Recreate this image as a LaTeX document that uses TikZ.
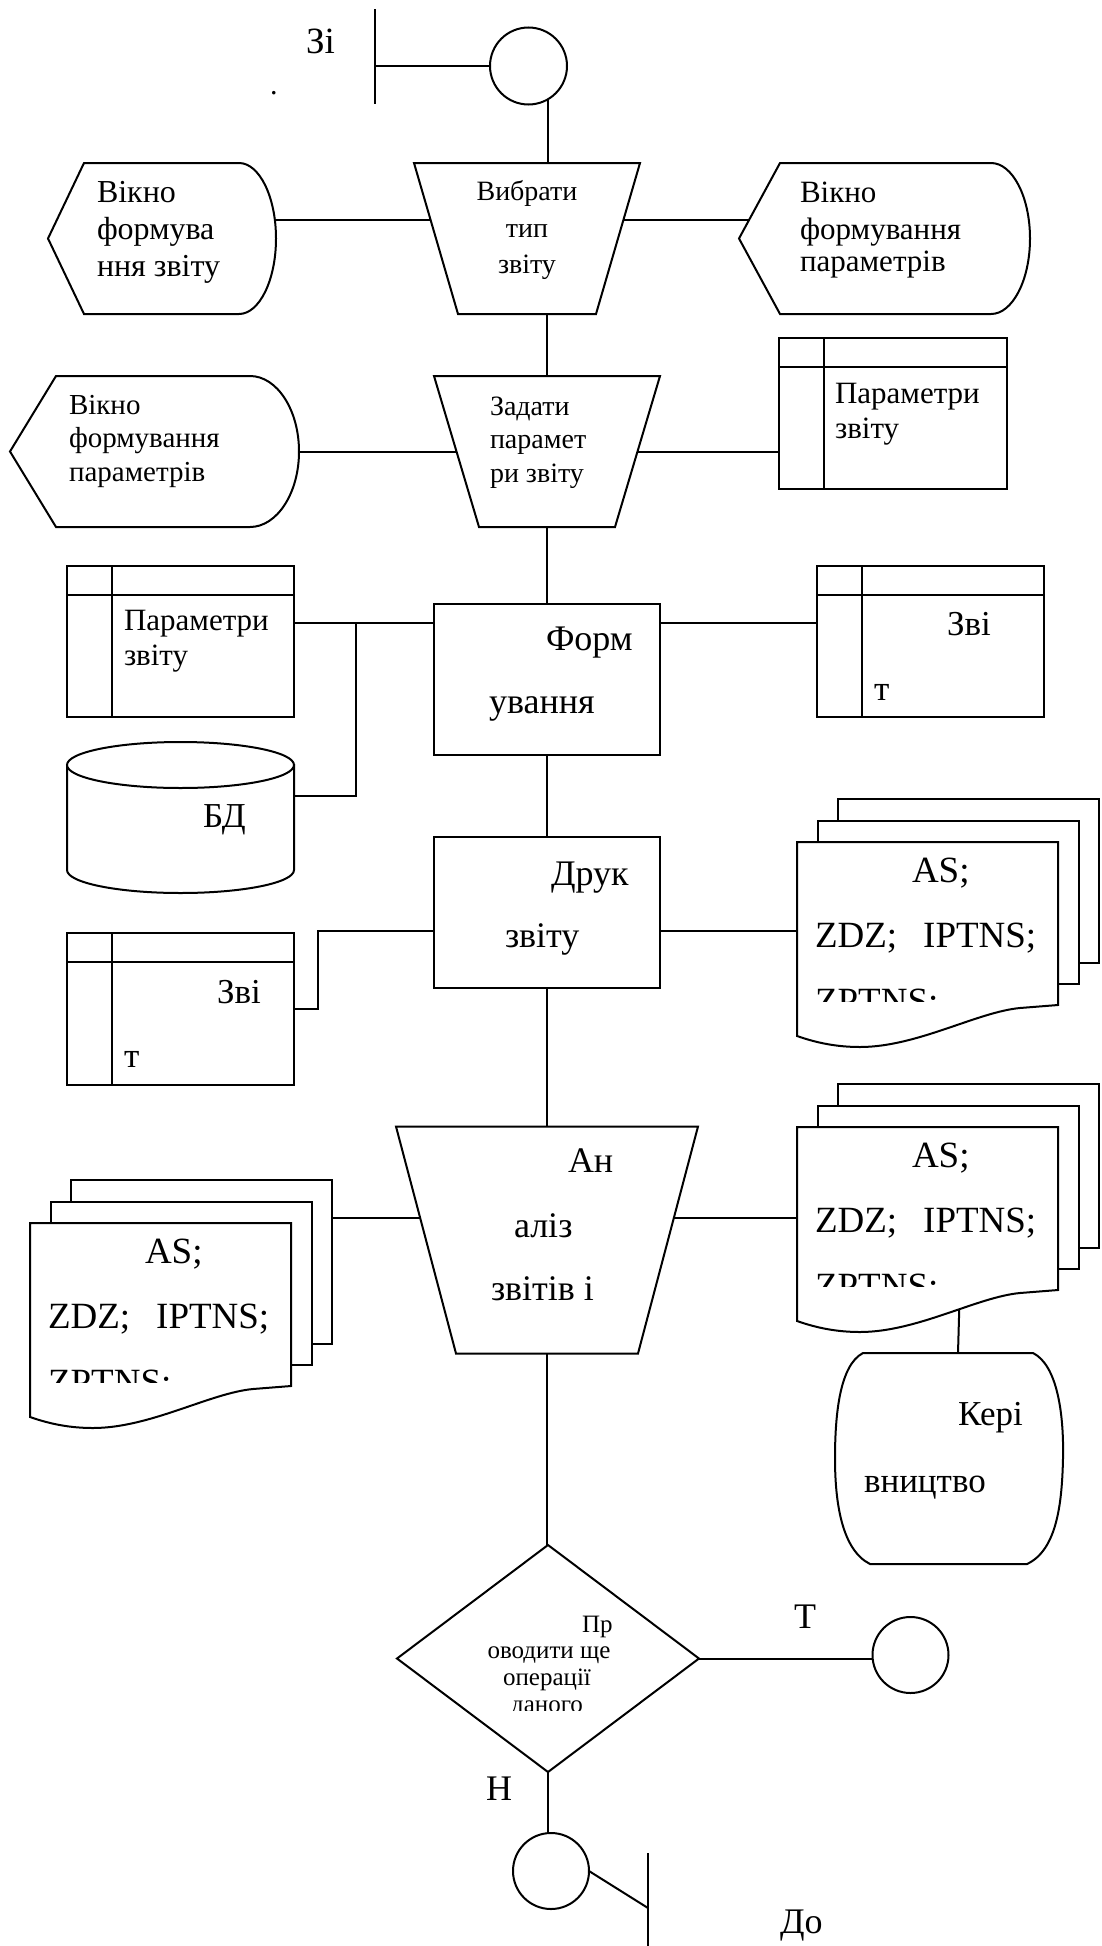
\documentclass[tikz,border=0pt]{standalone}
\usepackage{fontspec}
\setmainfont{Liberation Serif}
\usetikzlibrary{calc}
\pgfdeclarelayer{wires}
\pgfsetlayers{wires,main}

\tikzset{
  shp/.style={draw=black, line width=2pt, fill=white, line join=miter},
  ln/.style={draw=black, line width=2pt},
  wire/.style={draw=black, line width=2pt},
  area/.style 2 args={rectangle, minimum width=#1pt, minimum height=#2pt, inner sep=0pt, outer sep=0pt},
  lbl/.style={inner sep=0pt, outer sep=0pt, anchor=base west, font=\fontsize{#1pt}{#1pt}\selectfont},
  clbl/.style={inner sep=0pt, outer sep=0pt, anchor=base, font=\fontsize{#1pt}{#1pt}\selectfont},
  conn/.style={circle, shp, minimum size=#1pt, inner sep=0pt, outer sep=0pt},
}

% inverted trapezoid (manual operation): node, width, height, inset
\newcommand\trapz[4]{\begin{scope}[shift={(#1.north west)}]
  \draw[shp] (0,0) -- (#2,0) -- ({#2-#4},#3) -- (#4,#3) -- cycle;
\end{scope}}

% display symbol: node, width, height, point depth, rounded part
\newcommand\dispz[5]{\begin{scope}[shift={(#1.north west)}]
  \draw[shp] (#4,0) -- ({#2-#5},0)
    .. controls ({#2-0.45*#5},0) and (#2,{0.224*#3}) .. (#2,{0.5*#3})
    .. controls (#2,{0.776*#3}) and ({#2-0.45*#5},#3) .. ({#2-#5},#3)
    -- (#4,#3) -- (0,{0.5*#3}) -- cycle;
\end{scope}}

% internal storage: node, width, height
\newcommand\storez[3]{\begin{scope}[shift={(#1.north west)}]
  \draw[shp] (0,0) rectangle (#2,#3);
  \draw[ln] (45,0) -- (45,#3) (0,29) -- (#2,29);
\end{scope}}

% database cylinder: node, width, height, ellipse radius
\newcommand\cylz[4]{\begin{scope}[shift={(#1.north west)}]
  \draw[shp] (0,#4) -- (0,{#3-#4})
    .. controls (0,{#3-0.4477*#4}) and ({0.2238*#2},#3) .. ({0.5*#2},#3)
    .. controls ({0.7762*#2},#3) and (#2,{#3-0.4477*#4}) .. (#2,{#3-#4})
    -- (#2,#4) -- cycle;
  \draw[shp] ({0.5*#2},#4) ellipse [x radius={0.5*#2}, y radius=#4];
\end{scope}}

% stack of three documents with clipped text
\newcommand\stackz[1]{\begin{scope}[shift={(#1.north west)}]
  \draw[shp] (41,-43) rectangle (302,121);
  \draw[shp] (20.5,-21.5) rectangle (281.5,142);
  \draw[shp] (0,0) -- (261,0) -- (261,163) -- (223,166)
    .. controls (180,170) and (120,205) .. (63,205)
    .. controls (40,205) and (20,201) .. (0,194) -- cycle;
  \begin{scope}
    \clip (-5,0) rectangle (266,159);
    \node[lbl=37] (#1-a) at (115,40) {AS;};
    \node[lbl=37] (#1-b) at (18,105) {ZDZ;\hspace{26pt}IPTNS;};
    \node[lbl=37] (#1-c) at (18,171) {ZPTNS;};
  \end{scope}
\end{scope}}

\begin{document}
\begin{tikzpicture}[x=1pt,y=-1pt]
\useasboundingbox (0,0) rectangle (1101,1946);

% ---- node frames ----
\node[area={0}{95}] (barT) at (375,56.5) {};
\node[conn=77] (cT) at (528.5,66) {};
\node[area={228}{151}] (disp1) at (162,238.5) {};
\node[area={226}{151}] (trap1) at (527,238.5) {};
\node[area={291}{151}] (disp2) at (884.5,238.5) {};
\node[area={289}{151}] (disp3) at (154.5,451.5) {};
\node[area={226}{151}] (trap2) at (547,451.5) {};
\node[area={228}{151}] (store1) at (893,413.5) {};
\node[area={227}{151}] (store2) at (180.5,641.5) {};
\node[shp,area={226}{151}] (rect1) at (547,679.5) {};
\node[area={227}{151}] (store3) at (930.5,641.5) {};
\node[area={227}{151}] (cyl) at (180.5,817.5) {};
\node[shp,area={226}{151}] (rect2) at (547,912.5) {};
\node[area={227}{152}] (store4) at (180.5,1009) {};
\node[area={261}{205}] (s1) at (927.5,944.5) {};
\node[area={302}{227}] (trap3) at (547,1240) {};
\node[area={261}{205}] (s2) at (927.5,1229.5) {};
\node[area={261}{205}] (s3) at (160.5,1325.5) {};
\node[area={228}{211}] (kv) at (949,1458.5) {};
\node[area={302}{227}] (dia) at (548,1658.5) {};
\node[conn=76] (cR) at (910.5,1655) {};
\node[conn=76] (cB) at (551,1871) {};
\node[area={0}{93}] (barB) at (648,1899.5) {};

% ---- outlines ----
\draw[ln] (barT.north) -- (barT.south);
\draw[ln] (barB.north) -- (barB.south);
\dispz{disp1}{228}{151}{36}{37}
\trapz{trap1}{226}{151}{44}
\dispz{disp2}{291}{151}{41}{39}
\dispz{disp3}{289}{151}{46}{49}
\trapz{trap2}{226}{151}{45}
\storez{store1}{228}{151}
\storez{store2}{227}{151}
\storez{store3}{227}{151}
\cylz{cyl}{227}{151}{23}
\storez{store4}{227}{152}
\stackz{s1}
\stackz{s2}
\stackz{s3}
\trapz{trap3}{302}{227}{60}
\begin{scope}[shift={(kv.north west)}]
  \draw[shp] (28,0) -- (198,0) .. controls (222,12) and (229,60) .. (228,105.5)
    .. controls (227,150) and (222,197) .. (192,211) -- (35,211)
    .. controls (7,197) and (0,150) .. (0,105.5)
    .. controls (0,60) and (5,12) .. (28,0) -- cycle;
\end{scope}
\begin{scope}[shift={(dia.north west)}]
  \draw[shp] (151,0) -- (302,113.5) -- (151,227) -- (0,113.5) -- cycle;
\end{scope}

% ---- connectors (drawn beneath the filled shapes) ----
\begin{pgfonlayer}{wires}
  \draw[wire] (barT.center |- cT.center) -- (cT.center);
  \draw[wire] (cT.-60) -- (cT.-60 |- trap1.center);
  \draw[wire] ([yshift=18.5pt]disp1.center) -- ([yshift=18.5pt]trap1.center);
  \draw[wire] ([yshift=18.5pt]trap1.center) -- ([yshift=18.5pt]disp2.center);
  \draw[wire] (trap2.center |- trap1.center) -- (trap2.center);
  \draw[wire] (disp3.center) -- (trap2.center);
  \draw[wire] (trap2.center) -- (trap2.center -| store1.center);
  \draw[wire] (trap2.center) -- (rect1.center);
  \coordinate (r1w) at ([yshift=-19pt]rect1.north);
  \draw[wire] (r1w) -- (r1w -| store2.center);
  \draw[wire] (r1w) -- (r1w -| store3.center);
  \coordinate (jA) at (356,623);
  \draw[wire] ([yshift=21.5pt]cyl.center) -| (jA);
  \draw[wire] (rect1.center) -- (rect2.center);
  \coordinate (r2w) at ([yshift=-18.5pt]rect2.center);
  \coordinate (jB) at (318,1009);
  \draw[wire] (r2w) -| (jB) -- (store4.center);
  \draw[wire] (r2w) -- (r2w -| s1.center);
  \draw[wire] (rect2.center) -- (trap3.center);
  \coordinate (t3w) at ([yshift=22pt]trap3.center);
  \draw[wire] (t3w) -- (t3w -| s3.center);
  \draw[wire] (t3w) -- (t3w -| s2.center);
  \draw[wire] ([xshift=9pt]kv.north) -- ([xshift=34pt]s2.center);
  \draw[wire] (trap3.center) -- (trap3.center |- dia.center);
  \draw[wire] (dia.east) -- (dia.east -| cR.center);
  \draw[wire] (dia.south) -- (dia.south |- cB.center);
  \draw[wire] (cB.east) -- ([yshift=-8.5pt]barB.center);
\end{pgfonlayer}

% ---- texts ----
\node[lbl=37] (tZi) at (306,53) {Зі};
\node[lbl=30] (tDot) at (270,94) {.};

\node[lbl=32] (d1a) at (97,202) {Вікно};
\node[lbl=32] (d1b) at (97,239) {формува};
\node[lbl=32] (d1c) at (97,276) {ння звіту};

\node[clbl=28] (t1a) at (527,200) {Вибрати};
\node[clbl=28] (t1b) at (527,237) {тип};
\node[clbl=28] (t1c) at (527,273) {звіту};

\node[lbl=31] (d2a) at (800,202) {Вікно};
\node[lbl=31] (d2b) at (800,239) {формування};
\node[lbl=31] (d2c) at (800,271) {параметрів};

\node[lbl=28] (t2a) at (490,415) {Задати};
\node[lbl=28] (t2b) at (490,448) {парамет};
\node[lbl=28] (t2c) at (490,482) {ри звіту};

\node[lbl=29] (d3a) at (69,414) {Вікно};
\node[lbl=29] (d3b) at (69,447) {формування};
\node[lbl=29] (d3c) at (69,481) {параметрів};

\node[lbl=31] (p1a) at (835,403) {Параметри};
\node[lbl=31] (p1b) at (835,438) {звіту};
\node[lbl=31] (p2a) at (124,630) {Параметри};
\node[lbl=31] (p2b) at (124,665) {звіту};

\node[lbl=35] (z1a) at (947,635) {Зві};
\node[lbl=35] (z1b) at (874,700) {т};
\node[lbl=35] (z2a) at (217,1003) {Зві};
\node[lbl=35] (z2b) at (124,1067) {т};

\node[lbl=36] (f1) at (546,650) {Форм};
\node[lbl=36] (f2) at (489,713) {ування};
\node[lbl=35] (bd) at (203,827) {БД};
\node[lbl=36] (dr1) at (551,885) {Друк};
\node[lbl=36] (dr2) at (505,947) {звіту};

\node[lbl=36] (an1) at (568,1172) {Ан};
\node[lbl=36] (an2) at (514,1237) {аліз};
\node[lbl=36] (an3) at (491,1300) {звітів і};

\node[lbl=35] (k1) at (958,1425) {Кері};
\node[lbl=35] (k2) at (864,1492) {вництво};

\begin{scope}
  \clip (dia.north west) rectangle ([yshift=-51.5pt]dia.east);
  \node[lbl=25] (q1) at (582,1632) {Пр};
  \node[clbl=25] (q2) at (549,1658) {оводити ще};
  \node[clbl=25] (q3) at (547,1685) {операції};
  \node[clbl=25] (q4) at (547,1712) {даного};
\end{scope}

\node[clbl=36] (lT) at (805,1628) {Т};
\node[clbl=36] (lH) at (499,1800) {Н};
\node[lbl=36] (lDo) at (780,1933) {До};
\end{tikzpicture}
\end{document}
